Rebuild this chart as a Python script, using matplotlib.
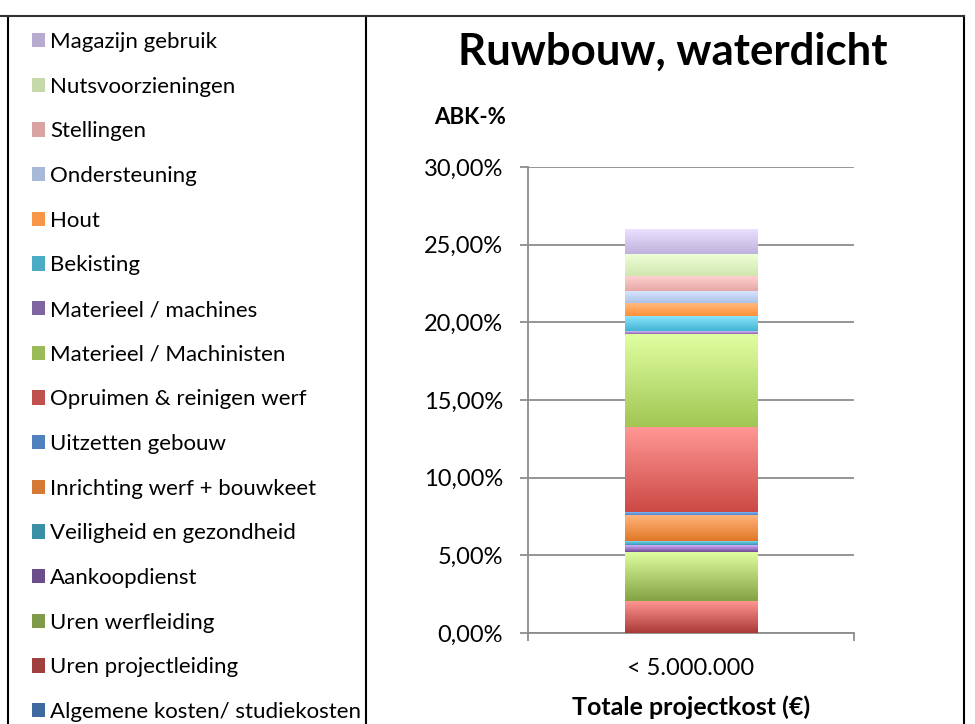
import numpy as np
import matplotlib.pyplot as plt
import matplotlib.colors as mcolors
from matplotlib.ticker import FuncFormatter

plt.rcParams['font.family'] = ['Lato', 'DejaVu Sans']

category = ['< 5.000.000']

# stacked from bottom to top (ABK-%)
series = ['Algemene kosten/ studiekosten', 'Uren projectleiding', 'Uren werfleiding',
          'Aankoopdienst', 'Veiligheid en gezondheid', 'Inrichting werf + bouwkeet',
          'Uitzetten gebouw', 'Opruimen & reinigen werf', 'Materieel / Machinisten',
          'Materieel / machines', 'Bekisting', 'Hout', 'Ondersteuning', 'Stellingen',
          'Nutsvoorzieningen', 'Magazijn gebruik']
values = [0.0, 2.06, 3.16, 0.43, 0.28, 1.67, 0.21, 5.47, 6.00,
          0.17, 0.97, 0.80, 0.77, 1.00, 1.44, 1.57]
colors = ['#3F6AA0', '#A0403E', '#7F9A48', '#6A4E8C', '#3A8FA5', '#D47A35',
          '#4F81BD', '#C0504D', '#9BBB59', '#8064A2', '#4BACC6', '#F79646',
          '#A7B9D8', '#D9A3A2', '#C6D9AA', '#B7ABCF']

fig = plt.figure(figsize=(9.75, 7.24), dpi=100)
ax = fig.add_axes([528 / 975, 1 - 633 / 724, 326 / 975, 466 / 724])


def shades(c):
    h, s, v = mcolors.rgb_to_hsv(mcolors.to_rgb(c))
    top = mcolors.hsv_to_rgb([h, s * 0.7, 1.0])
    bot = mcolors.hsv_to_rgb([h, min(s * 1.1, 1), min(v * 1.06, 1)])
    return top, bot


bottom = 0
handles = []
for name, val, col in zip(series, values, colors):
    bars = ax.bar(category, [val], bottom=bottom, width=0.405, color=col,
                  label=name, zorder=3, linewidth=0)
    handles.append(bars)
    top, bot = shades(col)
    p = bars.patches[0]
    if val > 0:
        x0, y0 = p.get_x(), p.get_y()
        grad = np.linspace(0, 1, 64)[:, None, None]
        img = bot[None, None, :] * (1 - grad) + top[None, None, :] * grad
        im = ax.imshow(img, extent=[x0, x0 + p.get_width(), y0, y0 + p.get_height()],
                       origin='lower', aspect='auto', zorder=3.5, interpolation='bilinear')
        im.set_clip_path(p)
    bottom += val

ax.set_xlim(-0.5, 0.5)
ax.set_ylim(0, 30)
ax.set_yticks(np.arange(0, 31, 5))
ax.yaxis.set_major_formatter(FuncFormatter(lambda v, _: f'{v:.2f}%'.replace('.', ',')))
ax.grid(axis='y', color='#8c8c8c', linewidth=1.3, zorder=0)
for s in ['top', 'right']:
    ax.spines[s].set_visible(False)
for s in ['left', 'bottom']:
    ax.spines[s].set_color('#8c8c8c')
    ax.spines[s].set_linewidth(1.3)
ax.tick_params(axis='y', length=6, color='#8c8c8c', width=1.3, labelsize=17, pad=12)
ax.tick_params(axis='x', length=0, labelsize=17, pad=18)
ax.set_xticks([-0.5, 0.5], minor=True)
ax.tick_params(axis='x', which='minor', length=6, color='#8c8c8c', width=1.3)
ax.set_xlabel('Totale projectkost (€)', fontsize=18, fontweight='bold', labelpad=12)

fig.text(673 / 975, 1 - 52 / 724, 'Ruwbouw, waterdicht', fontsize=31.5, fontweight='bold',
         ha='center', va='center')
fig.text(470 / 975, 1 - 117 / 724, 'ABK-%', fontsize=16, fontweight='bold',
         ha='center', va='center')

fig.legend(handles[::-1], series[::-1], loc='upper left',
           bbox_to_anchor=(32 / 975, 1 - 32 / 724), frameon=False, fontsize=16,
           labelspacing=1.11, handlelength=0.6, handleheight=0.6, handletextpad=0.22,
           borderpad=0, borderaxespad=0)

# frame around legend and chart
yt = 1 - 16 / 724
for x in [8 / 975, 366 / 975, 964 / 975]:
    fig.add_artist(plt.Line2D([x, x], [0, yt], color='black', lw=1.5))
fig.add_artist(plt.Line2D([0, 964 / 975], [yt, yt], color='#333333', lw=1.5))

fig.savefig('out.png', dpi=100)
